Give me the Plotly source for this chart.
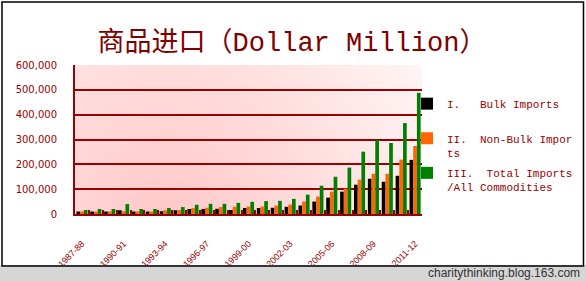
import base64
import plotly.graph_objects as go

# ---- data (US$ million) ----
years = ["1987-88", "1988-89", "1989-90", "1990-91", "1991-92", "1992-93", "1993-94",
         "1994-95", "1995-96", "1996-97", "1997-98", "1998-99", "1999-00", "2000-01",
         "2001-02", "2002-03", "2003-04", "2004-05", "2005-06", "2006-07", "2007-08",
         "2008-09", "2009-10", "2010-11", "2011-12"]
bulk = [10000, 10000, 10000, 15000, 10000, 10000, 11000, 15000, 20000, 20000, 21000, 16000,
        24000, 24000, 25000, 29000, 34000, 50000, 66000, 90000, 118000, 142000, 130000,
        154000, 218000]
nonbulk = [10000, 10000, 10000, 11000, 10000, 10000, 15000, 16000, 24000, 25000, 28000,
           29000, 30000, 30000, 34000, 38000, 50000, 70000, 90000, 102000, 138000, 162000,
           162000, 219000, 274000]
total = [16000, 20000, 20000, 40000, 20000, 20000, 24000, 28000, 37000, 41000, 41000, 45000,
         49000, 52000, 53000, 61000, 78000, 114000, 150000, 187000, 251000, 298000, 286000,
         366000, 488000]
labelled = years[::3]
series_names = ["I.   Bulk Imports<br> ", "II.  Non-Bulk Impor<br>ts",
                "III.  Total Imports<br>/All Commodities"]
series_colors = ["#000000", "#ff6600", "#008000"]

W, H = 586, 281
L, R, T, B = 75, 422, 65, 214

def px(x):
    return (x - L) / (R - L)

def py(y):
    return (B - y) / (B - T)

DR = "#990000"

fig = go.Figure()
for i, (name, vals, col) in enumerate(zip(series_names, [bulk, nonbulk, total], series_colors)):
    fig.add_trace(go.Bar(x=years, y=vals, name=name, marker_color=col,
                         marker_line_width=0, legendgroup="g%d" % i))

svg = ('<svg xmlns="http://www.w3.org/2000/svg" width="347" height="149" '
       'viewBox="0 0 347 149" preserveAspectRatio="none">'
       '<defs><radialGradient id="g" gradientUnits="userSpaceOnUse" cx="90" cy="149" r="400">'
       '<stop offset="0" stop-color="#ffc8c8"/><stop offset="0.35" stop-color="#ffdcdc"/>'
       '<stop offset="0.7" stop-color="#fff2f2"/>'
       '<stop offset="1" stop-color="#ffffff"/></radialGradient></defs>'
       '<rect width="347" height="149" fill="url(#g)"/></svg>')
src = "data:image/svg+xml;base64," + base64.b64encode(svg.encode()).decode()

fig.update_layout(
    width=W, height=H,
    margin=dict(l=L, r=W - R, t=T, b=H - B, autoexpand=False),
    paper_bgcolor="white",
    plot_bgcolor="rgba(0,0,0,0)",
    barmode="group", bargap=0.2, bargroupgap=0,
    title=dict(text="商品进口（Dollar Million）", x=292 / W, xanchor="center",
               y=1 - 42 / H, yanchor="middle",
               font=dict(family="Liberation Mono, Noto Sans CJK SC", size=27, color="#800000")),
    images=[dict(source=src, xref="paper", yref="paper", x=0, y=1, sizex=1, sizey=1,
                 sizing="stretch", layer="below", xanchor="left", yanchor="top")],
    legend=dict(x=px(407), y=py(90), xanchor="left", yanchor="top",
                font=dict(family="Liberation Mono", size=11, color=DR),
                bgcolor="rgba(0,0,0,0)", valign="top", tracegroupgap=3),
    showlegend=True,
    font=dict(family="Liberation Sans", color=DR),
)
fig.update_xaxes(
    type="category", tickmode="array", tickvals=years,
    ticktext=[y if y in labelled else "" for y in years],
    tickangle=-45, tickfont=dict(family="Liberation Sans", size=9, color=DR),
    ticks="inside", ticklen=4, tickcolor=DR, tickwidth=1.5, tickson="boundaries",
    showline=True, linecolor=DR, linewidth=2, showgrid=False,
    ticklabelstandoff=19, range=[-0.5, len(years) - 0.5], automargin=False,
)
fig.update_yaxes(
    range=[0, 600000], dtick=100000, tickformat=",d",
    tickfont=dict(family="DejaVu Sans", size=10, color=DR),
    showgrid=True, gridcolor=DR, gridwidth=1.5,
    showline=True, linecolor=DR, linewidth=2, ticks="", ticklabelstandoff=14,
    zeroline=False, automargin=False,
)

# outer frame and footer bar
fig.add_shape(type="rect", xref="paper", yref="paper", x0=px(0), x1=px(W), y0=py(265), y1=py(H),
              fillcolor="#d6d6d6", line_width=0, layer="above")
fig.add_shape(type="rect", xref="paper", yref="paper", x0=px(2), x1=px(583.5), y0=py(2), y1=py(266),
              fillcolor="rgba(0,0,0,0)", line=dict(color="#000000", width=1.5))
fig.add_annotation(text="charitythinking.blog.163.com", xref="paper", yref="paper",
                   x=px(582), y=py(273), xanchor="right", yanchor="middle", showarrow=False,
                   font=dict(family="Liberation Sans", size=12, color="#333333"))

fig.write_html("out.html")
